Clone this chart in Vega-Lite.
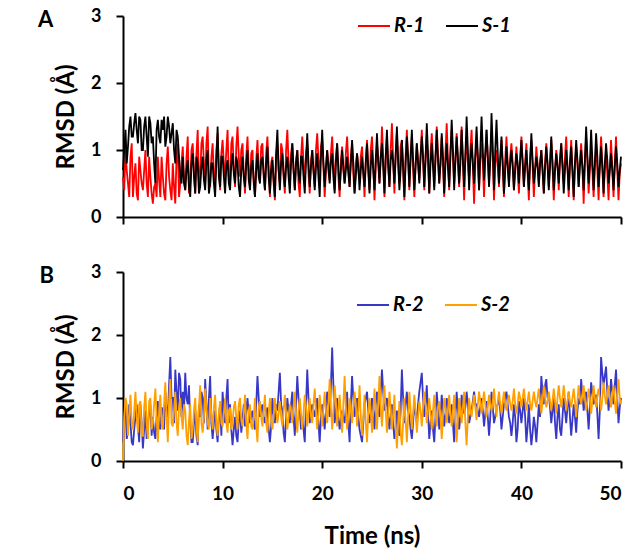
{
"$schema": "https://vega.github.io/schema/vega-lite/v6.json",
"padding": {"left": 38, "top": 7, "right": 5, "bottom": 3},
"background": "white",
"config": {
  "font": "Lato",
  "view": {"stroke": null},
  "axis": {"domainColor": "black", "domainWidth": 2, "tickColor": "black", "tickWidth": 2, "tickSize": 7, "labelFont": "Lato", "labelFontSize": 19, "labelFontWeight": "bold", "labelColor": "black", "labelPadding": 15, "titleFont": "Lato", "titleFontSize": 24, "titleFontWeight": "bold", "titleColor": "black", "grid": false},
  "legend": {"orient": "none", "direction": "horizontal", "symbolType": "stroke", "symbolStrokeWidth": 2, "symbolSize": 1024, "labelFont": "Lato", "labelFontSize": 20, "labelFontWeight": "bold", "labelFontStyle": "italic", "labelColor": "black", "labelOffset": 3, "columnPadding": 17, "padding": 0},
  "title": {"font": "Lato", "fontSize": 22, "fontWeight": "bold", "color": "black", "orient": "left", "anchor": "end", "angle": 0, "align": "right", "baseline": "middle", "offset": 0, "frame": "group", "dx": 18, "dy": -6}
},
"datasets": {"md": [
{"t":0,"r1":0.6,"s1":0.7,"r2":0.3,"s2":0},{"t":0.25,"r1":1.0,"s1":1.3,"r2":0.9,"s2":1.0},{"t":0.5,"r1":0.5,"s1":1.05,"r2":0.5,"s2":0.4},{"t":0.75,"r1":0.9,"s1":1.5,"r2":0.6,"s2":1.05},
{"t":1,"r1":0.3,"s1":1.2,"r2":0.25,"s2":0.5},{"t":1.25,"r1":0.8,"s1":1.55,"r2":0.7,"s2":1.1},{"t":1.5,"r1":0.25,"s1":1.1,"r2":0.55,"s2":0.45},{"t":1.75,"r1":0.7,"s1":1.45,"r2":0.9,"s2":0.95},
{"t":2,"r1":0.4,"s1":1.0,"r2":0.2,"s2":0.4},{"t":2.25,"r1":1.0,"s1":1.5,"r2":0.8,"s2":1.1},{"t":2.5,"r1":0.3,"s1":0.9,"r2":0.6,"s2":0.35},{"t":2.75,"r1":0.6,"s1":1.4,"r2":0.9,"s2":1.0},
{"t":3,"r1":0.2,"s1":1.2,"r2":0.7,"s2":0.6},{"t":3.25,"r1":0.5,"s1":0.5,"r2":0.35,"s2":1.15},{"t":3.5,"r1":0.9,"s1":1.45,"r2":0.95,"s2":0.3},{"t":3.75,"r1":0.3,"s1":1.1,"r2":0.5,"s2":1.05},
{"t":4,"r1":0.6,"s1":1.3,"r2":0.8,"s2":0.5},{"t":4.25,"r1":0.25,"s1":1.05,"r2":1.1,"s2":1.25},{"t":4.5,"r1":1.05,"s1":1.5,"r2":0.7,"s2":0.3},{"t":4.75,"r1":0.4,"s1":1.1,"r2":1.65,"s2":1.3},
{"t":5,"r1":0.8,"s1":1.4,"r2":1.0,"s2":0.55},{"t":5.25,"r1":0.2,"s1":0.8,"r2":1.45,"s2":1.1},{"t":5.5,"r1":1.1,"s1":1.2,"r2":0.8,"s2":0.4},{"t":5.75,"r1":0.5,"s1":0.6,"r2":1.3,"s2":1.0},
{"t":6,"r1":1.05,"s1":0.9,"r2":1.1,"s2":0.5},{"t":6.25,"r1":0.4,"s1":0.4,"r2":1.4,"s2":0.8},{"t":6.5,"r1":1.2,"s1":0.85,"r2":0.9,"s2":0.25},{"t":6.75,"r1":0.5,"s1":0.3,"r2":0.6,"s2":0.9},
{"t":7,"r1":1.1,"s1":0.95,"r2":0.3,"s2":0.5},{"t":7.25,"r1":0.35,"s1":0.35,"r2":0.8,"s2":1.0},{"t":7.5,"r1":1.3,"s1":0.8,"r2":0.25,"s2":0.3},{"t":7.75,"r1":0.6,"s1":0.45,"r2":0.7,"s2":1.2},
{"t":8,"r1":1.2,"s1":0.9,"r2":1.0,"s2":0.45},{"t":8.25,"r1":0.5,"s1":0.4,"r2":1.3,"s2":1.15},{"t":8.5,"r1":1.35,"s1":1.0,"r2":0.5,"s2":0.6},{"t":8.75,"r1":0.45,"s1":0.5,"r2":1.35,"s2":1.0},
{"t":9,"r1":1.1,"s1":0.8,"r2":0.35,"s2":0.5},{"t":9.25,"r1":0.55,"s1":0.3,"r2":0.8,"s2":1.05},{"t":9.5,"r1":1.25,"s1":1.35,"r2":0.3,"s2":0.4},{"t":9.75,"r1":0.4,"s1":0.45,"r2":0.9,"s2":0.95},
{"t":10,"r1":1.15,"s1":0.9,"r2":1.1,"s2":0.55},{"t":10.25,"r1":0.6,"s1":0.35,"r2":0.6,"s2":1.0},{"t":10.5,"r1":1.3,"s1":0.85,"r2":1.3,"s2":0.45},{"t":10.75,"r1":0.5,"s1":0.4,"r2":0.9,"s2":0.85},
{"t":11,"r1":1.2,"s1":0.95,"r2":0.25,"s2":0.6},{"t":11.25,"r1":0.45,"s1":0.5,"r2":0.7,"s2":0.95},{"t":11.5,"r1":1.35,"s1":0.8,"r2":0.3,"s2":0.5},{"t":11.75,"r1":0.6,"s1":0.3,"r2":0.8,"s2":1.0},
{"t":12,"r1":1.1,"s1":0.9,"r2":0.65,"s2":0.55},{"t":12.25,"r1":0.35,"s1":0.45,"r2":0.55,"s2":1.05},{"t":12.5,"r1":1.2,"s1":1.0,"r2":1.0,"s2":0.35},{"t":12.75,"r1":0.5,"s1":0.4,"r2":0.6,"s2":0.9},
{"t":13,"r1":1.0,"s1":0.85,"r2":0.8,"s2":0.5},{"t":13.25,"r1":0.3,"s1":0.3,"r2":0.5,"s2":1.0},{"t":13.5,"r1":1.15,"s1":0.95,"r2":1.35,"s2":0.3},{"t":13.75,"r1":0.55,"s1":0.5,"r2":0.7,"s2":0.95},
{"t":14,"r1":1.1,"s1":0.9,"r2":0.9,"s2":0.55},{"t":14.25,"r1":0.4,"s1":0.4,"r2":0.6,"s2":1.05},{"t":14.5,"r1":1.2,"s1":1.05,"r2":0.85,"s2":0.45},{"t":14.75,"r1":0.3,"s1":0.35,"r2":0.3,"s2":1.0},
{"t":15,"r1":0.9,"s1":0.85,"r2":1.0,"s2":0.5},{"t":15.25,"r1":0.25,"s1":0.3,"r2":0.6,"s2":1.0},{"t":15.5,"r1":1.1,"s1":1.3,"r2":0.8,"s2":0.6},{"t":15.75,"r1":0.5,"s1":0.4,"r2":1.4,"s2":0.95},
{"t":16,"r1":1.0,"s1":0.95,"r2":0.8,"s2":0.55},{"t":16.25,"r1":0.35,"s1":0.45,"r2":0.3,"s2":1.05},{"t":16.5,"r1":1.3,"s1":0.9,"r2":1.0,"s2":0.5},{"t":16.75,"r1":0.6,"s1":0.35,"r2":0.6,"s2":0.9},
{"t":17,"r1":1.1,"s1":1.1,"r2":1.1,"s2":0.6},{"t":17.25,"r1":0.4,"s1":0.4,"r2":0.4,"s2":1.1},{"t":17.5,"r1":1.0,"s1":1.0,"r2":1.35,"s2":0.45},{"t":17.75,"r1":0.3,"s1":0.5,"r2":0.8,"s2":1.0},
{"t":18,"r1":1.2,"s1":0.9,"r2":0.7,"s2":0.5},{"t":18.25,"r1":0.5,"s1":0.35,"r2":0.3,"s2":1.05},{"t":18.5,"r1":1.1,"s1":1.25,"r2":1.45,"s2":0.55},{"t":18.75,"r1":0.35,"s1":0.45,"r2":0.6,"s2":1.0},
{"t":19,"r1":1.0,"s1":1.0,"r2":0.9,"s2":0.6},{"t":19.25,"r1":0.45,"s1":0.4,"r2":0.7,"s2":1.15},{"t":19.5,"r1":1.25,"s1":0.95,"r2":1.0,"s2":0.5},{"t":19.75,"r1":0.6,"s1":0.3,"r2":0.3,"s2":1.05},
{"t":20,"r1":1.15,"s1":1.3,"r2":0.9,"s2":0.55},{"t":20.25,"r1":0.3,"s1":0.45,"r2":0.5,"s2":1.1},{"t":20.5,"r1":1.0,"s1":1.0,"r2":1.1,"s2":0.6},{"t":20.75,"r1":0.55,"s1":0.5,"r2":0.7,"s2":1.3},
{"t":21,"r1":1.2,"s1":0.95,"r2":1.8,"s2":0.5},{"t":21.25,"r1":0.4,"s1":0.35,"r2":0.6,"s2":1.2},{"t":21.5,"r1":1.1,"s1":1.1,"r2":1.0,"s2":0.55},{"t":21.75,"r1":0.3,"s1":0.4,"r2":0.5,"s2":1.05},
{"t":22,"r1":1.05,"s1":1.0,"r2":0.8,"s2":0.45},{"t":22.25,"r1":0.5,"s1":0.5,"r2":0.6,"s2":1.35},{"t":22.5,"r1":1.2,"s1":0.9,"r2":1.1,"s2":0.5},{"t":22.75,"r1":0.45,"s1":0.45,"r2":0.3,"s2":1.0},
{"t":23,"r1":1.1,"s1":1.15,"r2":1.35,"s2":0.6},{"t":23.25,"r1":0.35,"s1":0.35,"r2":0.7,"s2":1.1},{"t":23.5,"r1":0.95,"s1":0.95,"r2":1.0,"s2":0.55},{"t":23.75,"r1":0.55,"s1":0.4,"r2":0.5,"s2":1.2},
{"t":24,"r1":1.05,"s1":0.9,"r2":0.3,"s2":0.4},{"t":24.25,"r1":0.3,"s1":0.45,"r2":0.9,"s2":1.05},{"t":24.5,"r1":1.15,"s1":1.1,"r2":1.1,"s2":0.3},{"t":24.75,"r1":0.4,"s1":0.35,"r2":0.6,"s2":1.0},
{"t":25,"r1":1.2,"s1":1.0,"r2":1.0,"s2":0.45},{"t":25.25,"r1":0.25,"s1":0.4,"r2":0.5,"s2":1.15},{"t":25.5,"r1":1.1,"s1":1.25,"r2":1.1,"s2":0.5},{"t":25.75,"r1":0.5,"s1":0.5,"r2":0.7,"s2":1.35},
{"t":26,"r1":1.35,"s1":1.1,"r2":1.45,"s2":0.55},{"t":26.25,"r1":0.3,"s1":0.35,"r2":0.8,"s2":1.2},{"t":26.5,"r1":1.2,"s1":1.3,"r2":1.0,"s2":0.45},{"t":26.75,"r1":0.45,"s1":0.45,"r2":0.5,"s2":1.1},
{"t":27,"r1":1.4,"s1":1.0,"r2":0.9,"s2":0.5},{"t":27.25,"r1":0.35,"s1":0.5,"r2":0.35,"s2":1.05},{"t":27.5,"r1":1.25,"s1":1.35,"r2":0.8,"s2":0.2},{"t":27.75,"r1":0.5,"s1":0.4,"r2":0.4,"s2":0.95},
{"t":28,"r1":1.15,"s1":1.15,"r2":1.45,"s2":0.25},{"t":28.25,"r1":0.25,"s1":0.3,"r2":0.6,"s2":1.0},{"t":28.5,"r1":1.3,"s1":1.2,"r2":1.1,"s2":0.3},{"t":28.75,"r1":0.4,"s1":0.45,"r2":0.7,"s2":1.1},
{"t":29,"r1":1.2,"s1":1.3,"r2":0.35,"s2":0.5},{"t":29.25,"r1":0.3,"s1":0.4,"r2":0.9,"s2":1.05},{"t":29.5,"r1":1.1,"s1":1.1,"r2":0.6,"s2":0.45},{"t":29.75,"r1":0.55,"s1":0.5,"r2":1.1,"s2":0.95},
{"t":30,"r1":1.3,"s1":1.2,"r2":1.4,"s2":0.55},{"t":30.25,"r1":0.4,"s1":0.45,"r2":0.7,"s2":1.1},{"t":30.5,"r1":1.2,"s1":1.4,"r2":1.2,"s2":0.6},{"t":30.75,"r1":0.35,"s1":0.35,"r2":0.35,"s2":1.0},
{"t":31,"r1":1.25,"s1":1.1,"r2":0.8,"s2":0.5},{"t":31.25,"r1":0.45,"s1":0.4,"r2":0.3,"s2":1.05},{"t":31.5,"r1":1.35,"s1":1.3,"r2":1.1,"s2":0.55},{"t":31.75,"r1":0.5,"s1":0.5,"r2":0.5,"s2":0.95},
{"t":32,"r1":1.2,"s1":1.25,"r2":1.05,"s2":0.35},{"t":32.25,"r1":0.3,"s1":0.35,"r2":0.55,"s2":1.0},{"t":32.5,"r1":1.4,"s1":1.1,"r2":1.0,"s2":0.6},{"t":32.75,"r1":0.4,"s1":0.45,"r2":0.6,"s2":1.05},
{"t":33,"r1":1.3,"s1":1.45,"r2":0.9,"s2":0.55},{"t":33.25,"r1":0.5,"s1":0.4,"r2":0.3,"s2":1.05},{"t":33.5,"r1":1.25,"s1":1.2,"r2":1.1,"s2":0.3},{"t":33.75,"r1":0.45,"s1":0.5,"r2":0.5,"s2":1.0},
{"t":34,"r1":1.35,"s1":1.3,"r2":1.05,"s2":0.6},{"t":34.25,"r1":0.25,"s1":0.45,"r2":0.75,"s2":1.1},{"t":34.5,"r1":1.2,"s1":1.5,"r2":1.1,"s2":0.25},{"t":34.75,"r1":0.55,"s1":0.4,"r2":0.6,"s2":1.0},
{"t":35,"r1":1.3,"s1":1.1,"r2":0.8,"s2":0.7},{"t":35.25,"r1":0.2,"s1":0.5,"r2":1.1,"s2":1.05},{"t":35.5,"r1":1.15,"s1":1.35,"r2":0.9,"s2":0.65},{"t":35.75,"r1":0.4,"s1":0.4,"r2":0.7,"s2":1.1},
{"t":36,"r1":1.1,"s1":1.5,"r2":1.0,"s2":0.75},{"t":36.25,"r1":0.3,"s1":0.55,"r2":0.55,"s2":1.1},{"t":36.5,"r1":1.3,"s1":1.3,"r2":0.95,"s2":0.7},{"t":36.75,"r1":0.5,"s1":0.45,"r2":0.4,"s2":1.05},
{"t":37,"r1":1.25,"s1":1.55,"r2":1.1,"s2":0.8},{"t":37.25,"r1":0.25,"s1":0.4,"r2":0.6,"s2":1.15},{"t":37.5,"r1":1.0,"s1":1.45,"r2":0.85,"s2":0.7},{"t":37.75,"r1":0.45,"s1":0.5,"r2":1.0,"s2":1.1},
{"t":38,"r1":1.15,"s1":1.2,"r2":0.5,"s2":0.75},{"t":38.25,"r1":0.3,"s1":0.35,"r2":0.9,"s2":1.1},{"t":38.5,"r1":1.2,"s1":1.05,"r2":1.1,"s2":0.8},{"t":38.75,"r1":0.5,"s1":0.45,"r2":0.7,"s2":1.05},
{"t":39,"r1":1.1,"s1":1.0,"r2":0.4,"s2":0.8},{"t":39.25,"r1":0.4,"s1":0.4,"r2":0.9,"s2":1.15},{"t":39.5,"r1":1.05,"s1":0.95,"r2":0.3,"s2":0.75},{"t":39.75,"r1":0.35,"s1":0.5,"r2":0.95,"s2":1.1},
{"t":40,"r1":1.2,"s1":1.15,"r2":0.6,"s2":0.85},{"t":40.25,"r1":0.45,"s1":0.45,"r2":1.0,"s2":1.15},{"t":40.5,"r1":1.1,"s1":1.0,"r2":0.3,"s2":0.8},{"t":40.75,"r1":0.25,"s1":0.4,"r2":0.9,"s2":1.1},
{"t":41,"r1":1.15,"s1":1.25,"r2":0.25,"s2":0.8},{"t":41.25,"r1":0.3,"s1":0.5,"r2":0.7,"s2":1.1},{"t":41.5,"r1":1.05,"s1":0.9,"r2":0.3,"s2":0.85},{"t":41.75,"r1":0.5,"s1":0.45,"r2":0.9,"s2":1.15},
{"t":42,"r1":1.0,"s1":1.0,"r2":1.35,"s2":0.75},{"t":42.25,"r1":0.35,"s1":0.35,"r2":0.9,"s2":1.2},{"t":42.5,"r1":1.1,"s1":1.05,"r2":1.3,"s2":0.85},{"t":42.75,"r1":0.45,"s1":0.4,"r2":1.05,"s2":1.1},
{"t":43,"r1":1.15,"s1":1.2,"r2":0.6,"s2":0.8},{"t":43.25,"r1":0.25,"s1":0.4,"r2":1.0,"s2":1.15},{"t":43.5,"r1":1.0,"s1":0.95,"r2":0.35,"s2":0.75},{"t":43.75,"r1":0.4,"s1":0.5,"r2":0.9,"s2":1.2},
{"t":44,"r1":1.1,"s1":1.1,"r2":0.4,"s2":0.85},{"t":44.25,"r1":0.5,"s1":0.35,"r2":1.0,"s2":1.2},{"t":44.5,"r1":1.2,"s1":1.0,"r2":0.6,"s2":0.8},{"t":44.75,"r1":0.3,"s1":0.4,"r2":1.1,"s2":1.1},
{"t":45,"r1":1.15,"s1":1.05,"r2":0.4,"s2":0.85},{"t":45.25,"r1":0.25,"s1":0.3,"r2":0.9,"s2":1.15},{"t":45.5,"r1":1.05,"s1":1.15,"r2":0.45,"s2":0.7},{"t":45.75,"r1":0.45,"s1":0.45,"r2":1.0,"s2":1.2},
{"t":46,"r1":1.1,"s1":1.0,"r2":1.3,"s2":0.9},{"t":46.25,"r1":0.2,"s1":0.4,"r2":0.8,"s2":1.2},{"t":46.5,"r1":1.2,"s1":1.35,"r2":1.1,"s2":0.8},{"t":46.75,"r1":0.35,"s1":0.5,"r2":0.5,"s2":1.15},
{"t":47,"r1":1.0,"s1":1.3,"r2":1.25,"s2":0.75},{"t":47.25,"r1":0.3,"s1":0.4,"r2":0.9,"s2":1.2},{"t":47.5,"r1":1.1,"s1":1.25,"r2":1.05,"s2":0.85},{"t":47.75,"r1":0.25,"s1":0.45,"r2":0.35,"s2":1.15},
{"t":48,"r1":1.2,"s1":1.05,"r2":1.65,"s2":0.8},{"t":48.25,"r1":0.3,"s1":0.35,"r2":1.2,"s2":1.25},{"t":48.5,"r1":0.95,"s1":1.1,"r2":1.5,"s2":0.9},{"t":48.75,"r1":0.25,"s1":0.5,"r2":0.8,"s2":1.2},
{"t":49,"r1":1.15,"s1":0.95,"r2":1.3,"s2":0.85},{"t":49.25,"r1":0.3,"s1":0.4,"r2":0.9,"s2":1.2},{"t":49.5,"r1":1.2,"s1":1.05,"r2":1.45,"s2":0.75},{"t":49.75,"r1":0.25,"s1":0.45,"r2":0.6,"s2":1.3},
{"t":50,"r1":0.8,"s1":0.9,"r2":1.0,"s2":0.9},
{"t":0.125,"r1":0.4,"s1":1.0,"r2":0.7,"s2":0.7},{"t":0.375,"r1":0.7,"s1":0.8,"r2":0.35,"s2":0.9},{"t":0.625,"r1":0.3,"s1":1.35,"r2":0.9,"s2":0.75},{"t":0.875,"r1":1.1,"s1":1.2,"r2":0.3,"s2":0.6},
{"t":1.125,"r1":0.6,"s1":1.4,"r2":0.5,"s2":0.8},{"t":1.375,"r1":0.35,"s1":1.3,"r2":0.9,"s2":0.7},{"t":1.625,"r1":0.9,"s1":1.5,"r2":0.3,"s2":0.9},{"t":1.875,"r1":0.5,"s1":1.0,"r2":0.6,"s2":0.4},
{"t":2.125,"r1":0.7,"s1":1.35,"r2":0.5,"s2":0.85},{"t":2.375,"r1":0.5,"s1":1.2,"r2":0.35,"s2":0.6},{"t":2.625,"r1":0.9,"s1":1.5,"r2":0.75,"s2":0.95},{"t":2.875,"r1":0.35,"s1":1.1,"r2":0.4,"s2":0.5},
{"t":3.125,"r1":0.45,"s1":0.8,"r2":0.45,"s2":0.9},{"t":3.375,"r1":0.3,"s1":1.3,"r2":0.7,"s2":0.7},{"t":3.625,"r1":0.55,"s1":1.2,"r2":0.55,"s2":0.8},{"t":3.875,"r1":0.9,"s1":1.45,"r2":0.85,"s2":0.6},
{"t":4.125,"r1":0.35,"s1":1.5,"r2":0.5,"s2":0.9},{"t":4.375,"r1":0.8,"s1":1.2,"r2":0.8,"s2":0.7},{"t":4.625,"r1":0.6,"s1":1.35,"r2":1.2,"s2":0.95},{"t":4.875,"r1":0.25,"s1":1.25,"r2":1.0,"s2":0.6},
{"t":5.125,"r1":0.45,"s1":1.0,"r2":0.6,"s2":0.8},{"t":5.375,"r1":0.9,"s1":1.3,"r2":1.1,"s2":0.6},{"t":5.625,"r1":0.3,"s1":0.9,"r2":1.4,"s2":0.85},{"t":5.875,"r1":0.8,"s1":0.5,"r2":0.7,"s2":0.7},
{"t":6.125,"r1":0.6,"s1":0.5,"r2":0.8,"s2":0.9},{"t":6.375,"r1":0.9,"s1":0.7,"r2":1.0,"s2":0.4},{"t":6.625,"r1":0.35,"s1":0.45,"r2":1.2,"s2":0.65},{"t":6.875,"r1":1.0,"s1":0.8,"r2":0.3,"s2":0.35},
{"t":7.125,"r1":0.7,"s1":0.6,"r2":0.6,"s2":0.8},{"t":7.375,"r1":0.95,"s1":0.9,"r2":0.4,"s2":0.55},{"t":7.625,"r1":0.5,"s1":0.35,"r2":0.9,"s2":0.85},{"t":7.875,"r1":1.1,"s1":0.75,"r2":1.1,"s2":0.6},
{"t":8.125,"r1":0.8,"s1":0.55,"r2":0.6,"s2":0.7},{"t":8.375,"r1":1.1,"s1":0.85,"r2":0.9,"s2":0.85},{"t":8.625,"r1":0.6,"s1":0.35,"r2":1.0,"s2":0.5},{"t":8.875,"r1":0.9,"s1":0.8,"r2":0.6,"s2":0.75},
{"t":9.125,"r1":0.6,"s1":0.5,"r2":0.6,"s2":0.85},{"t":9.375,"r1":1.0,"s1":0.85,"r2":0.5,"s2":0.6},{"t":9.625,"r1":0.7,"s1":0.6,"r2":0.7,"s2":0.75},{"t":9.875,"r1":0.95,"s1":0.9,"r2":0.4,"s2":0.6},
{"t":10.125,"r1":0.8,"s1":0.6,"r2":0.8,"s2":0.75},{"t":10.375,"r1":1.0,"s1":0.75,"r2":1.0,"s2":0.6},{"t":10.625,"r1":0.6,"s1":0.5,"r2":0.6,"s2":0.8},{"t":10.875,"r1":1.1,"s1":0.8,"r2":0.5,"s2":0.5},
{"t":11.125,"r1":0.7,"s1":0.65,"r2":0.5,"s2":0.85},{"t":11.375,"r1":1.05,"s1":0.9,"r2":0.4,"s2":0.7},{"t":11.625,"r1":0.9,"s1":0.45,"r2":0.65,"s2":0.9},{"t":11.875,"r1":1.0,"s1":0.7,"r2":0.45,"s2":0.65},
{"t":12.125,"r1":0.65,"s1":0.6,"r2":0.9,"s2":0.75},{"t":12.375,"r1":0.9,"s1":0.8,"r2":0.8,"s2":0.6},{"t":12.625,"r1":0.7,"s1":0.55,"r2":0.75,"s2":0.8},{"t":12.875,"r1":0.95,"s1":0.75,"r2":0.7,"s2":0.55},
{"t":13.125,"r1":0.5,"s1":0.55,"r2":0.6,"s2":0.7},{"t":13.375,"r1":0.85,"s1":0.7,"r2":0.9,"s2":0.55},{"t":13.625,"r1":0.7,"s1":0.6,"r2":1.0,"s2":0.85},{"t":13.875,"r1":1.05,"s1":0.85,"r2":0.8,"s2":0.7},
{"t":14.125,"r1":0.6,"s1":0.65,"r2":0.7,"s2":0.8},{"t":14.375,"r1":0.95,"s1":0.8,"r2":0.75,"s2":0.6},{"t":14.625,"r1":0.75,"s1":0.6,"r2":0.5,"s2":0.75},{"t":14.875,"r1":0.8,"s1":0.7,"r2":0.55,"s2":0.65},
{"t":15.125,"r1":0.5,"s1":0.55,"r2":0.75,"s2":0.7},{"t":15.375,"r1":0.9,"s1":0.95,"r2":0.9,"s2":0.8},{"t":15.625,"r1":0.7,"s1":0.7,"r2":1.1,"s2":0.75},{"t":15.875,"r1":1.1,"s1":0.8,"r2":0.9,"s2":0.7},
{"t":16.125,"r1":0.6,"s1":0.65,"r2":0.45,"s2":0.8},{"t":16.375,"r1":1.0,"s1":0.75,"r2":0.7,"s2":0.75},{"t":16.625,"r1":0.8,"s1":0.6,"r2":0.8,"s2":0.7},{"t":16.875,"r1":0.95,"s1":0.8,"r2":0.9,"s2":0.8},
{"t":17.125,"r1":0.7,"s1":0.7,"r2":0.7,"s2":0.85},{"t":17.375,"r1":0.85,"s1":0.8,"r2":0.9,"s2":0.7},{"t":17.625,"r1":0.5,"s1":0.65,"r2":1.0,"s2":0.8},{"t":17.875,"r1":0.9,"s1":0.9,"r2":0.5,"s2":0.75},
{"t":18.125,"r1":0.8,"s1":0.6,"r2":0.5,"s2":0.75},{"t":18.375,"r1":0.95,"s1":0.85,"r2":0.9,"s2":0.85},{"t":18.625,"r1":0.65,"s1":0.8,"r2":1.0,"s2":0.8},{"t":18.875,"r1":0.85,"s1":0.75,"r2":0.8,"s2":0.7},
{"t":19.125,"r1":0.7,"s1":0.7,"r2":0.8,"s2":0.9},{"t":19.375,"r1":1.0,"s1":0.75,"r2":0.85,"s2":0.8},{"t":19.625,"r1":0.85,"s1":0.6,"r2":0.6,"s2":0.75},{"t":19.875,"r1":1.05,"s1":0.9,"r2":0.7,"s2":0.8},
{"t":20.125,"r1":0.75,"s1":0.8,"r2":0.7,"s2":0.85},{"t":20.375,"r1":0.7,"s1":0.75,"r2":0.8,"s2":0.8},{"t":20.625,"r1":0.8,"s1":0.7,"r2":0.9,"s2":0.9},{"t":20.875,"r1":0.95,"s1":0.85,"r2":1.2,"s2":0.85},
{"t":21.125,"r1":0.8,"s1":0.6,"r2":1.2,"s2":0.8},{"t":21.375,"r1":0.9,"s1":0.8,"r2":0.8,"s2":0.95},{"t":21.625,"r1":0.6,"s1":0.75,"r2":0.7,"s2":0.8},{"t":21.875,"r1":0.85,"s1":0.7,"r2":0.65,"s2":0.75},
{"t":22.125,"r1":0.7,"s1":0.75,"r2":0.7,"s2":0.9},{"t":22.375,"r1":0.95,"s1":0.7,"r2":0.85,"s2":0.85},{"t":22.625,"r1":0.8,"s1":0.65,"r2":0.6,"s2":0.7},{"t":22.875,"r1":0.9,"s1":0.8,"r2":0.9,"s2":0.8},
{"t":23.125,"r1":0.65,"s1":0.8,"r2":1.0,"s2":0.85},{"t":23.375,"r1":0.8,"s1":0.6,"r2":0.85,"s2":0.9},{"t":23.625,"r1":0.7,"s1":0.75,"r2":0.7,"s2":0.8},{"t":23.875,"r1":0.9,"s1":0.7,"r2":0.4,"s2":0.7},
{"t":24.125,"r1":0.7,"s1":0.65,"r2":0.6,"s2":0.7},{"t":24.375,"r1":0.85,"s1":0.8,"r2":1.0,"s2":0.6},{"t":24.625,"r1":0.75,"s1":0.7,"r2":0.8,"s2":0.75},{"t":24.875,"r1":1.0,"s1":0.75,"r2":0.75,"s2":0.8},
{"t":25.125,"r1":0.8,"s1":0.7,"r2":0.8,"s2":0.8},{"t":25.375,"r1":0.75,"s1":0.85,"r2":0.9,"s2":0.85},{"t":25.625,"r1":0.9,"s1":0.8,"r2":0.85,"s2":0.9},{"t":25.875,"r1":0.85,"s1":0.9,"r2":1.1,"s2":0.85},
{"t":26.125,"r1":0.9,"s1":0.75,"r2":1.1,"s2":0.9},{"t":26.375,"r1":0.85,"s1":0.9,"r2":0.9,"s2":0.8},{"t":26.625,"r1":0.75,"s1":0.8,"r2":0.7,"s2":0.75},{"t":26.875,"r1":1.0,"s1":0.85,"r2":0.75,"s2":0.85},
{"t":27.125,"r1":0.85,"s1":0.8,"r2":0.6,"s2":0.75},{"t":27.375,"r1":0.95,"s1":0.9,"r2":0.5,"s2":0.5},{"t":27.625,"r1":0.8,"s1":0.85,"r2":0.55,"s2":0.6},{"t":27.875,"r1":1.05,"s1":0.7,"r2":0.8,"s2":0.45},
{"t":28.125,"r1":0.7,"s1":0.75,"r2":1.0,"s2":0.6},{"t":28.375,"r1":0.9,"s1":0.8,"r2":0.9,"s2":0.65},{"t":28.625,"r1":0.85,"s1":0.9,"r2":0.8,"s2":0.7},{"t":28.875,"r1":0.95,"s1":0.85,"r2":0.5,"s2":0.8},
{"t":29.125,"r1":0.75,"s1":0.85,"r2":0.6,"s2":0.75},{"t":29.375,"r1":0.8,"s1":0.75,"r2":0.75,"s2":0.8},{"t":29.625,"r1":0.85,"s1":0.8,"r2":0.9,"s2":0.7},{"t":29.875,"r1":0.9,"s1":0.9,"r2":1.25,"s2":0.8},
{"t":30.125,"r1":0.85,"s1":0.9,"r2":1.0,"s2":0.85},{"t":30.375,"r1":0.9,"s1":0.85,"r2":0.9,"s2":0.9},{"t":30.625,"r1":0.8,"s1":0.95,"r2":0.75,"s2":0.8},{"t":30.875,"r1":0.95,"s1":0.8,"r2":0.6,"s2":0.75},
{"t":31.125,"r1":0.9,"s1":0.75,"r2":0.5,"s2":0.8},{"t":31.375,"r1":0.85,"s1":0.9,"r2":0.7,"s2":0.75},{"t":31.625,"r1":0.95,"s1":0.85,"r2":0.85,"s2":0.85},{"t":31.875,"r1":0.8,"s1":0.8,"r2":0.7,"s2":0.7},
{"t":32.125,"r1":0.8,"s1":0.9,"r2":0.8,"s2":0.7},{"t":32.375,"r1":0.95,"s1":0.8,"r2":0.75,"s2":0.85},{"t":32.625,"r1":0.85,"s1":0.75,"r2":0.85,"s2":0.8},{"t":32.875,"r1":1.0,"s1":0.9,"r2":0.7,"s2":0.75},
{"t":33.125,"r1":0.9,"s1":1.0,"r2":0.6,"s2":0.8},{"t":33.375,"r1":0.85,"s1":0.85,"r2":0.7,"s2":0.7},{"t":33.625,"r1":0.8,"s1":0.9,"r2":0.8,"s2":0.65},{"t":33.875,"r1":0.95,"s1":0.8,"r2":0.7,"s2":0.8},
{"t":34.125,"r1":0.85,"s1":0.85,"r2":0.9,"s2":0.85},{"t":34.375,"r1":0.9,"s1":0.9,"r2":0.85,"s2":0.6},{"t":34.625,"r1":0.8,"s1":1.0,"r2":0.9,"s2":0.7},{"t":34.875,"r1":1.0,"s1":0.85,"r2":0.7,"s2":0.8},
{"t":35.125,"r1":0.75,"s1":0.8,"r2":0.95,"s2":0.9},{"t":35.375,"r1":0.8,"s1":0.95,"r2":0.9,"s2":0.85},{"t":35.625,"r1":0.9,"s1":0.9,"r2":0.8,"s2":0.9},{"t":35.875,"r1":0.85,"s1":1.0,"r2":0.85,"s2":0.95},
{"t":36.125,"r1":0.8,"s1":1.0,"r2":0.8,"s2":0.95},{"t":36.375,"r1":0.85,"s1":0.95,"r2":0.75,"s2":0.9},{"t":36.625,"r1":0.9,"s1":0.9,"r2":0.7,"s2":0.85},{"t":36.875,"r1":0.95,"s1":0.85,"r2":0.7,"s2":0.9},
{"t":37.125,"r1":0.85,"s1":1.05,"r2":0.85,"s2":0.95},{"t":37.375,"r1":0.8,"s1":1.0,"r2":0.7,"s2":0.9},{"t":37.625,"r1":0.75,"s1":0.95,"r2":0.9,"s2":0.95},{"t":37.875,"r1":0.9,"s1":0.85,"r2":0.8,"s2":0.9},
{"t":38.125,"r1":0.75,"s1":0.8,"r2":0.7,"s2":0.95},{"t":38.375,"r1":0.85,"s1":0.7,"r2":1.0,"s2":0.9},{"t":38.625,"r1":0.8,"s1":0.75,"r2":0.9,"s2":0.95},{"t":38.875,"r1":0.9,"s1":0.8,"r2":0.6,"s2":0.9},
{"t":39.125,"r1":0.8,"s1":0.75,"r2":0.6,"s2":0.95},{"t":39.375,"r1":0.75,"s1":0.7,"r2":0.7,"s2":0.9},{"t":39.625,"r1":0.7,"s1":0.8,"r2":0.5,"s2":0.9},{"t":39.875,"r1":0.85,"s1":0.85,"r2":0.8,"s2":1.0},
{"t":40.125,"r1":0.85,"s1":0.8,"r2":0.8,"s2":1.0},{"t":40.375,"r1":0.8,"s1":0.75,"r2":0.7,"s2":0.95},{"t":40.625,"r1":0.65,"s1":0.7,"r2":0.55,"s2":0.95},{"t":40.875,"r1":0.9,"s1":0.8,"r2":0.5,"s2":0.9},
{"t":41.125,"r1":0.75,"s1":0.85,"r2":0.45,"s2":0.95},{"t":41.375,"r1":0.7,"s1":0.7,"r2":0.55,"s2":0.95},{"t":41.625,"r1":0.8,"s1":0.75,"r2":0.6,"s2":1.0},{"t":41.875,"r1":0.8,"s1":0.8,"r2":0.7,"s2":0.95},
{"t":42.125,"r1":0.7,"s1":0.7,"r2":1.1,"s2":0.95},{"t":42.375,"r1":0.8,"s1":0.75,"r2":1.2,"s2":1.0},{"t":42.625,"r1":0.75,"s1":0.8,"r2":1.0,"s2":0.95},{"t":42.875,"r1":0.85,"s1":0.75,"r2":0.85,"s2":0.95},
{"t":43.125,"r1":0.75,"s1":0.8,"r2":0.8,"s2":0.95},{"t":43.375,"r1":0.7,"s1":0.7,"r2":0.6,"s2":0.95},{"t":43.625,"r1":0.8,"s1":0.75,"r2":0.7,"s2":1.0},{"t":43.875,"r1":0.85,"s1":0.85,"r2":0.5,"s2":1.0},
{"t":44.125,"r1":0.8,"s1":0.75,"r2":0.7,"s2":1.0},{"t":44.375,"r1":0.9,"s1":0.7,"r2":0.8,"s2":1.0},{"t":44.625,"r1":0.75,"s1":0.75,"r2":0.85,"s2":0.95},{"t":44.875,"r1":0.8,"s1":0.8,"r2":0.7,"s2":0.95},
{"t":45.125,"r1":0.7,"s1":0.7,"r2":0.65,"s2":1.0},{"t":45.375,"r1":0.75,"s1":0.8,"r2":0.7,"s2":0.95},{"t":45.625,"r1":0.8,"s1":0.85,"r2":0.8,"s2":0.95},{"t":45.875,"r1":0.85,"s1":0.75,"r2":0.9,"s2":1.0},
{"t":46.125,"r1":0.75,"s1":0.75,"r2":1.05,"s2":1.05},{"t":46.375,"r1":0.8,"s1":0.85,"r2":0.95,"s2":1.0},{"t":46.625,"r1":0.85,"s1":0.9,"r2":0.8,"s2":0.95},{"t":46.875,"r1":0.7,"s1":0.8,"r2":0.85,"s2":1.0},
{"t":47.125,"r1":0.7,"s1":0.85,"r2":1.1,"s2":0.95},{"t":47.375,"r1":0.75,"s1":0.8,"r2":1.0,"s2":1.0},{"t":47.625,"r1":0.7,"s1":0.9,"r2":0.75,"s2":1.05},{"t":47.875,"r1":0.8,"s1":0.75,"r2":0.8,"s2":1.0},
{"t":48.125,"r1":0.8,"s1":0.75,"r2":1.4,"s2":1.0},{"t":48.375,"r1":0.7,"s1":0.8,"r2":1.35,"s2":1.05},{"t":48.625,"r1":0.65,"s1":0.85,"r2":1.1,"s2":1.05},{"t":48.875,"r1":0.75,"s1":0.7,"r2":1.0,"s2":1.0},
{"t":49.125,"r1":0.75,"s1":0.7,"r2":1.1,"s2":1.05},{"t":49.375,"r1":0.8,"s1":0.75,"r2":1.2,"s2":0.95},{"t":49.625,"r1":0.7,"s1":0.8,"r2":1.0,"s2":1.05},{"t":49.875,"r1":0.65,"s1":0.7,"r2":0.85,"s2":1.0}
]},
"spacing": 37,
"vconcat": [
  {
    "title": {"text": "A"},
    "width": 498, "height": 201,
    "data": {"name": "md"},
    "encoding": {"x": {"field": "t", "type": "quantitative", "scale": {"domain": [0, 50], "nice": false}, "axis": {"values": [0, 10, 20, 30, 40, 50], "labels": false, "title": null}}},
    "layer": [
      {"mark": {"type": "line", "strokeWidth": 1.8},
       "encoding": {
         "y": {"field": "r1", "type": "quantitative", "scale": {"domain": [0, 3], "nice": false}, "axis": {"values": [0, 1, 2, 3], "title": "RMSD (Å)", "titlePadding": 12, "labelFontSize": 18}},
         "color": {"datum": "R-1", "type": "nominal", "scale": {"domain": ["R-1", "S-1"], "range": ["#ff0000", "#000000"]}, "legend": {"title": null, "legendX": 234, "legendY": -7}}}},
      {"mark": {"type": "line", "strokeWidth": 1.8},
       "encoding": {
         "y": {"field": "s1", "type": "quantitative", "scale": {"domain": [0, 3], "nice": false}, "axis": {"values": [0, 1, 2, 3], "title": "RMSD (Å)", "titlePadding": 12, "labelFontSize": 18}},
         "color": {"datum": "S-1", "type": "nominal"}}}
    ]
  },
  {
    "title": {"text": "B"},
    "width": 498, "height": 189,
    "data": {"name": "md"},
    "encoding": {"x": {"field": "t", "type": "quantitative", "scale": {"domain": [0, 50], "nice": false}, "axis": {"values": [0, 10, 20, 30, 40, 50], "title": "Time (ns)", "labelPadding": 16, "titlePadding": 21}}},
    "layer": [
      {"mark": {"type": "line", "strokeWidth": 1.8},
       "encoding": {
         "y": {"field": "r2", "type": "quantitative", "scale": {"domain": [0, 3], "nice": false}, "axis": {"values": [0, 1, 2, 3], "title": "RMSD (Å)", "titlePadding": 12, "labelFontSize": 18}},
         "color": {"datum": "R-2", "type": "nominal", "scale": {"domain": ["R-2", "S-2"], "range": ["#3838c8", "#ff9f00"]}, "legend": {"title": null, "legendX": 233, "legendY": 16}}}},
      {"mark": {"type": "line", "strokeWidth": 1.8},
       "encoding": {
         "y": {"field": "s2", "type": "quantitative", "scale": {"domain": [0, 3], "nice": false}, "axis": {"values": [0, 1, 2, 3], "title": "RMSD (Å)", "titlePadding": 12, "labelFontSize": 18}},
         "color": {"datum": "S-2", "type": "nominal"}}}
    ]
  }
],
"resolve": {"scale": {"color": "independent"}}
}
